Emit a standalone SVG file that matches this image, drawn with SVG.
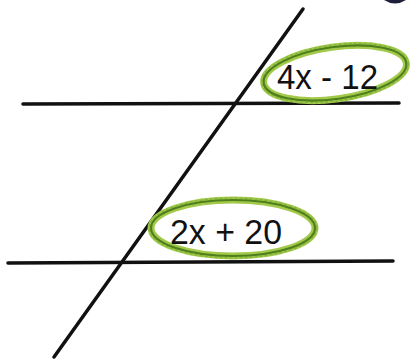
<svg xmlns="http://www.w3.org/2000/svg" width="414" height="362" viewBox="0 0 414 362">
<style>
.ln{stroke:#111;stroke-width:3.5;stroke-linecap:round;fill:none}
.ov1{fill:none;stroke:#a3c94a;stroke-width:7}
.ov2{fill:none;stroke:#4f7f1c;stroke-width:2.2}
.ov3{fill:none;stroke:#7fb23a;stroke-width:1.2;stroke-dasharray:3 2}
.lbl{font-family:"Liberation Sans",Arial,sans-serif;font-size:35px;fill:#111}
</style>
<rect width="414" height="362" fill="#fff"/>
<path d="M384,0 Q395,7 406,0 Z" fill="#1c1f3a"/>
<g id="connectors">
<line class="ln" x1="23" y1="104" x2="399" y2="103"/>
<line class="ln" x1="8" y1="263" x2="393" y2="261"/>
<line class="ln" x1="303" y1="9" x2="54" y2="357"/>
</g>
<g id="angle-top">
<ellipse class="ov1" cx="335" cy="73" rx="72" ry="26" transform="rotate(-8 335 73)"/>
<ellipse class="ov2" cx="335" cy="73" rx="72" ry="26" transform="rotate(-8 335 73)"/>
<ellipse class="ov3" cx="335" cy="73" rx="74" ry="28" transform="rotate(-8 335 73)"/>
<text class="lbl" x="277" y="89" textLength="101" lengthAdjust="spacingAndGlyphs">4x - 12</text>
</g>
<g id="angle-bottom">
<ellipse class="ov1" cx="233" cy="228" rx="82" ry="28"/>
<ellipse class="ov2" cx="233" cy="228" rx="82" ry="28"/>
<ellipse class="ov3" cx="233" cy="228" rx="84" ry="30"/>
<text class="lbl" x="170" y="244" textLength="112" lengthAdjust="spacingAndGlyphs">2x + 20</text>
</g>
</svg>
